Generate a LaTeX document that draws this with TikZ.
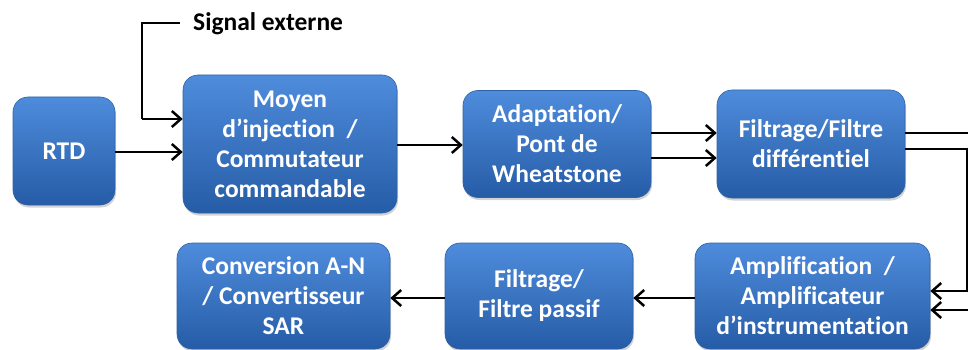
\documentclass[tikz,border=0pt]{standalone}
\usepackage{fontspec}
\setmainfont[RawFeature={-liga;-clig;-calt;-dlig}]{Carlito}
\usetikzlibrary{arrows.meta,shadows}
\definecolor{boxtop}{RGB}{78,140,220}
\definecolor{boxbot}{RGB}{38,92,166}
\definecolor{boxedge}{RGB}{46,98,168}
\begin{document}
\begin{tikzpicture}[x=1pt,y=-1pt,
  blk/.style={rounded corners=15pt, top color=boxtop, bottom color=boxbot, draw=boxedge, line width=0.6pt,
    drop shadow={opacity=0.35, shadow xshift=1pt, shadow yshift=-2.5pt},
    text=white, align=center, inner sep=0pt, font=\bfseries\fontsize{25.5}{30}\selectfont},
  arr/.style={line width=2.8pt, -{Straight Barb[length=9pt,width=16pt,line width=2.5pt]}},
  ln/.style={line width=2.8pt}]
\useasboundingbox (0,0) rectangle (968,350);
\clip (0,0) rectangle (968,350);
\node[blk, minimum width=102pt, minimum height=108pt] (rtd) at (64,151) {RTD};
\node[blk, minimum width=214pt, minimum height=138pt] (moyen) at (290,144) {Moyen\\d’injection~~/\\Commutateur\\commandable};
\node[blk, minimum width=188pt, minimum height=107pt] (adapt) at (557,144) {Adaptation/\\Pont de\\Wheatstone};
\node[blk, minimum width=188pt, minimum height=108pt] (filt1) at (811,144) {Filtrage/Filtre\\différentiel};
\node[blk, minimum width=235pt, minimum height=106pt] (ampl) at (812.5,296) {Amplification~~/\\Amplificateur\\d’instrumentation};
\node[blk, minimum width=188pt, minimum height=106pt] (filt2) at (539,296) {Filtrage/\\Filtre passif};
\node[blk, minimum width=213pt, minimum height=106pt] (conv) at (283.5,296) {Conversion A-N\\/ Convertisseur\\SAR};
\node[anchor=west, inner sep=0pt, font=\bfseries\fontsize{25.5}{30}\selectfont] (sig) at (193,24) {Signal externe};
% signal externe
\coordinate (s1) at (180,23);
\coordinate (s2) at (142,23);
\coordinate (s3) at (142,119);
\draw[ln] (s1) -- (s2) -- (s3);
\draw[arr] (s3) -- (moyen.west |- s3);
% main chain
\draw[arr] (rtd.east |- 0,152) -- (moyen.west |- 0,152);
\draw[arr] (moyen.east |- 0,145) -- (adapt.west |- 0,145);
\draw[arr] (adapt.east |- 0,133) -- (filt1.west |- 0,133);
\draw[arr] (adapt.east |- 0,158) -- (filt1.west |- 0,158);
% return path
\coordinate (i1) at (967.5,149);
\coordinate (i2) at (967.5,291);
\coordinate (o1) at (980,133);
\coordinate (o2) at (980,310);
\draw[ln] (filt1.east |- i1) -- (i1) -- (i2);
\draw[arr] (i2) -- (ampl.east |- i2);
\draw[ln] (filt1.east |- o1) -- (o1) -- (o2);
\draw[arr] (o2) -- (ampl.east |- o2);
\draw[arr] (ampl.west |- 0,298) -- (filt2.east |- 0,298);
\draw[arr] (filt2.west |- 0,298) -- (conv.east |- 0,298);
\end{tikzpicture}
\end{document}
